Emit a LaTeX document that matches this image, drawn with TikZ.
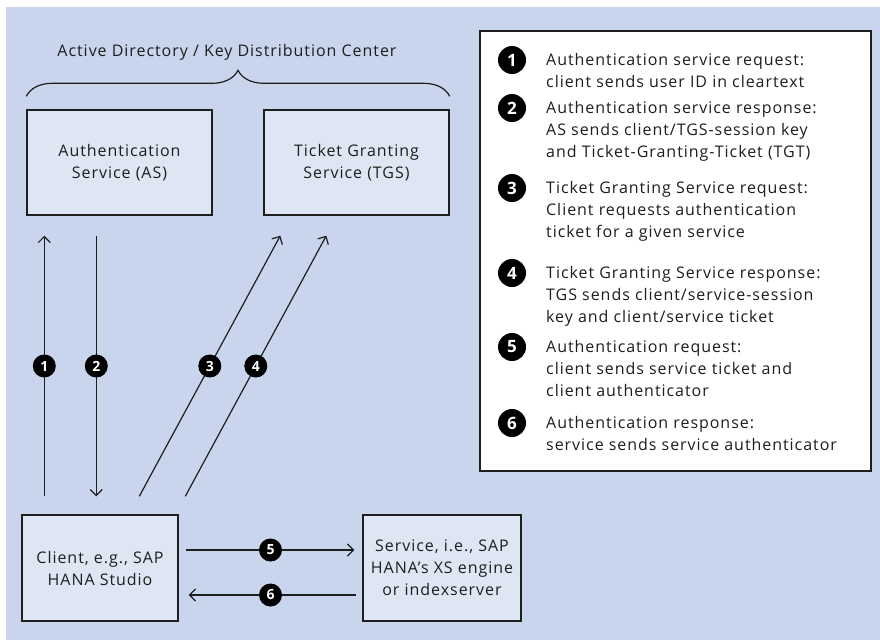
\documentclass[tikz,border=0pt]{standalone}
\usepackage{fontspec}
\setmainfont{Open Sans}[LetterSpace=6]
\usetikzlibrary{arrows.meta,positioning,decorations.pathreplacing}
\definecolor{bgblue}{HTML}{C9D5EC}
\definecolor{boxfill}{HTML}{DEE6F3}
\definecolor{ink}{HTML}{1E1E1E}
\begin{document}
\begin{tikzpicture}[x=1pt,y=-1pt,>={Straight Barb[length=6pt,width=12pt]}]
 \tikzstyle{krbbox}=[rectangle,draw=ink,line width=1.4pt,fill=boxfill,align=center,font=\fontsize{16}{22}\selectfont,text=ink]
 \tikzstyle{numdot}=[circle,fill=black,text=white,inner sep=0pt,minimum size=23pt,font=\fontsize{14}{14}\selectfont\bfseries]
 \tikzstyle{keydot}=[numdot,minimum size=28pt,font=\fontsize{17}{17}\selectfont\bfseries]
 \tikzstyle{keytext}=[anchor=north west,inner sep=0pt,align=left,font=\fontsize{16}{22}\selectfont,text=ink]
 \tikzstyle{flow}=[->,line width=1.2pt,draw=ink]
 \useasboundingbox (0,0) rectangle (880,640);
 \fill[bgblue] (6,7) rectangle (880,640);
 \node[font=\fontsize{16}{22}\selectfont,text=ink] (kdc) at (227,52) {Active Directory / Key Distribution Center};
 \node[krbbox,minimum width=185pt,minimum height=105pt] (as) at (119.5,162.5) {Authentication\\Service (AS)};
 \node[krbbox,minimum width=185pt,minimum height=105pt] (tgs) at (356.5,162.5) {Ticket Granting\\Service (TGS)};
 \node[krbbox,minimum width=156pt,minimum height=106pt] (client) at (100,568) {Client, e.g., SAP\\HANA Studio};
 \node[krbbox,minimum width=158pt,minimum height=106pt] (svc) at (442,568) {Service, i.e., SAP\\HANA's XS engine\\or indexserver};
 \draw[ink,line width=1.2pt,decorate,decoration={brace,amplitude=26pt}] ([yshift=13pt]as.north west) -- ([yshift=13pt]tgs.north east);
 \draw[flow] ([xshift=23pt,yshift=18pt]client.north west) -- node[numdot]{1} ([xshift=18pt,yshift=-20pt]as.south west);
 \draw[flow] ([xshift=70pt,yshift=-20pt]as.south west) -- node[numdot]{2} ([xshift=75pt,yshift=18pt]client.north west);
 \draw[flow] ([xshift=118pt,yshift=18pt]client.north west) -- node[numdot]{3} ([xshift=17pt,yshift=-20pt]tgs.south west);
 \draw[flow] ([xshift=164pt,yshift=18pt]client.north west) -- node[numdot]{4} ([xshift=63pt,yshift=-20pt]tgs.south west);
 \draw[flow,shorten <=7pt,shorten >=8pt] ([yshift=18pt]client.east) -- node[numdot]{5} ([yshift=18pt]svc.west);
 \draw[flow,shorten <=6pt,shorten >=10pt] ([yshift=-27pt]svc.west) -- node[numdot]{6} ([yshift=-27pt]client.east);
 \node[rectangle,draw=ink,line width=1.4pt,fill=white,minimum width=391pt,minimum height=440pt] (legend) at (675.5,251) {};
 \node[keydot] (k1) at (512,60) {1};
 \node[keytext] (t1) at (546,53) {Authentication service request:\\client sends user ID in cleartext};
 \node[keydot] (k2) at (512,108) {2};
 \node[keytext] (t2) at (546,101) {Authentication service response:\\AS sends client/TGS-session key\\and Ticket-Granting-Ticket (TGT)};
 \node[keydot] (k3) at (512,188) {3};
 \node[keytext] (t3) at (546,181) {Ticket Granting Service request:\\Client requests authentication\\ticket for a given service};
 \node[keydot] (k4) at (512,273) {4};
 \node[keytext] (t4) at (546,266) {Ticket Granting Service response:\\TGS sends client/service-session\\key and client/service ticket};
 \node[keydot] (k5) at (512,347) {5};
 \node[keytext] (t5) at (546,340) {Authentication request:\\client sends service ticket and\\client authenticator};
 \node[keydot] (k6) at (512,423) {6};
 \node[keytext] (t6) at (546,416) {Authentication response:\\service sends service authenticator};
\end{tikzpicture}
\end{document}
